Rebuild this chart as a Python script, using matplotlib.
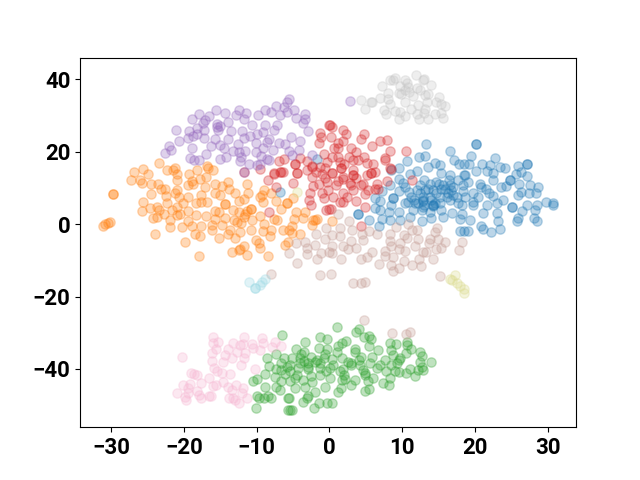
import numpy as np
import matplotlib
matplotlib.use('Agg')
import matplotlib.pyplot as plt

plt.rcParams['font.family'] = 'Roboto'

# t-SNE points, one list per cluster
blue = [(13.3,22),(20.1,22),(20.1,22),(16.6,20.1),(19.4,18.8),(22.7,18.3),(17.1,17.7),(12.3,18.6),(13.2,18.8),(10.6,17.4),(14.5,16.9),
        (15.2,16.3),(13.5,15.8),(9.6,15.6),(17.8,16.5),(18.5,16.6),(19.2,16.7),(21,16.6),(22.1,16.3),(23.5,15.8),(24.2,15.4),
        (25.9,16.1),(27.1,16.7),(27.1,16.7),(26.4,14.4),(25.6,13.8),(27.1,13.2),(20.1,14.7),(21.6,14.6),(22.5,14),(24.8,12.3),(12.1,14.6),
        (11.1,13.8),(8.5,14.9),(16.6,13.5),(15.4,14),(18.5,13.7),(9.5,12.6),(10.4,10.3),(8.3,10.8),(7.2,9.2),(13,12.1),
        (12.4,10.8),(14.7,11.7),(12,9.4),(11,8.8),(9.5,9.2),(13.1,9.4),(14.3,9.4),(15.4,9.8),(16.6,10.8),(17.7,12.1),
        (18.4,10.8),(19.1,11.7),(20.7,11.2),(22.5,12.1),(23.6,10.3),(24.8,12.3),(26,11.2),(26.4,8.9),(25.9,8),(27.6,10.8),
        (28.7,10.3),(27.5,8.5),(28.4,8.5),(20.9,10.3),(19.8,8.7),(20.4,7.5),(22,8.5),(22.5,7.7),(23.9,6.6),(24.3,10.5),
        (23,5.7),(21.6,5.2),(19.8,5.2),(18.6,7.5),(17.5,7.5),(16.3,8.5),(15.2,7.5),(14,6.6),(12.9,6.6),(11.7,5.7),
        (10.8,6.2),(10.4,5.7),(8.8,7.1),(8.8,7.1),(6.2,7.1),(6.9,6.4),(8.5,5.2),(6.9,4),(6.2,4.5),(3.9,2.9),(3.9,2.9),(8.2,3.4),
        (9.5,3.4),(11.5,3.9),(12.9,4.8),(14.3,5.4),(15.4,3.9),(16.8,3.2),(18.2,2.9),(19.3,1.1),(17.9,1.3),(15.6,2),
        (14,1.6),(12.7,0.8),(11.1,2),(9.7,1.1),(8.3,1.1),(7.2,1.3),(5.5,1.1),(6.8,-0.6),(21.1,3.1),(23,3.1),
        (25.1,4.6),(25.1,4.6),(26.5,3.7),(27.2,5.4),(28.5,5.4),(28.3,3.9),(29.8,6),(30.7,5.9),(30.7,5.4),(28.1,1.6),(28.6,0.9),
        (25.9,1.6),(25.8,0.9),(23.2,0.8),(23.4,-1.4),(22.2,-2.1),(21.1,-1.4),(20.9,-0.5),(19.1,-1.8),(18.5,-1.8),(17.9,-2),
        (12.4,8.5),(13.6,9.8),(14.5,5.7),(15.9,9.8),(17,10.3),(14.7,8.5),(13.8,7.5),(16.6,6.6),(17.7,5.7),(12.7,3.9),
        (11.6,6.6),(12.2,5.9),(16.1,7.5),(19.8,6.2),(21.5,9.8),(18.2,5.2),(13.8,3.4),(15.2,5.7),(18.6,13.5),(13.8,11.2),
        (15.6,10.8),(14.3,5.2),(-6.8,8.9),(-1.7,18.1),(12.8,6.4),(14.2,4.9),(13,5.3),(16.7,9.3),(11.2,7.5),(15.1,11),
        (10.1,11.4),(18.3,9.2),(16.5,12.2),(17,8),(12.9,7.4)]
orange = [(-23.4,16.9),(-26.9,14.4),(-25.6,15.2),(-24.9,13.8),(-27.3,12.1),(-26,12.1),(-25.8,11.4),(-24.6,11.2),(-23.6,11.2),(-22.4,14.9),
          (-21.2,15.6),(-20.9,13.8),(-21,12.1),(-21.5,14.9),(-19.3,13.8),(-18.2,14.9),(-16.9,16.1),(-16.7,15.4),(-16,14.9),(-17,13.1),
          (-17.8,12.6),(-18.9,11.9),(-18.7,11.2),(-19.5,10.8),(-17.1,10.3),(-15.8,11),(-14.8,10.5),(-14,11.7),(-13.8,9.8),(-23.1,9.8),
          (-22.6,9.8),(-20.9,9.4),(-21.2,8.5),(-20.7,7.4),(-22.5,7.7),(-24.5,8.3),(-25.6,6.2),(-25.8,3.7),(-24.7,4.5),(-23.7,4.8),
          (-23.5,3.9),(-22.4,5.7),(-21,4.8),(-20.1,5.7),(-19.5,7.4),(-18.4,5.9),(-17.6,8),(-17.6,6.2),(-16.8,6),(-15.8,8.5),
          (-15,8),(-13,8.7),(-11.4,11),(-11.2,8.7),(-11.8,6.9),(-12.5,6.4),(-14.4,5.5),(-14.4,5.5),(-9.5,7.4),(-9.3,8),(-9,9.3),
          (-8,8.7),(-9.2,6.2),(-7.4,6.4),(-5.9,5.9),(-5.9,5.9),(-5,7.1),(-6.6,4.1),(-10.8,4.1),(-10.8,4.1),(-13.2,3.9),(-12.5,3.4),(-11.6,2.9),
          (-11.4,3.7),(-15.8,3.6),(-15.2,3.4),(-18.4,2.5),(-17,2.2),(-14.3,1.8),(-21.7,3.9),(-20.9,2.5),(-20.5,2.9),(-19.4,3.7),
          (-22.8,2.8),(-23.7,2),(-24.3,1.6),(-21.9,1.1),(-21.9,-0.7),(-20.3,-0.7),(-19.5,0.8),(-18.9,-0.5),(-17.6,-0.5),(-15.8,1.3),
          (-16.2,-0.3),(-16.2,-1.7),(-14.8,-0.3),(-13.7,-1.7),(-13.1,1.1),(-12.7,0.6),(-12.1,0.2),(-11.8,2),(-10.7,1.1),(-9.6,2.2),
          (-9,0),(-10.8,-1.7),(-12.3,-2.1),(-9.1,-1.8),(-8,-1.7),(-8.2,-3.3),(-7.2,1.1),(-7.6,1.3),(-6.4,-1.7),(-5.5,-1.7),
          (-5.2,-0.5),(-4.9,1.3),(-4.6,3.4),(-3.4,3.4),(-3.6,1.8),(-5.2,-2.4),(-4.1,-2.6),(-2.2,1.1),(-1.7,1.3),(-2.4,-0.3),
          (-24,-2.6),(-18.5,-2.8),(-17.8,-3.2),(-15.2,-3.8),(-14,-2.8),(-13,-3.9),(-19.8,-4.9),(-10.1,-4.4),(-9.7,-5.1),(-9.5,-6.5),
          (-11.8,-6),(-12.3,-7),(-13.4,-7.6),(-11.4,-8.4),(-8.5,-8.7),(-18,-8.7),(-6.1,-5.8),(-5.7,-4.9),(-29.8,8.2),(-29.8,8.2),(-31.2,-0.6),
          (-30.8,0),(-30.2,0.5),(-30.5,0.3),(0.4,0.8),(-2,1),(-12.5,-7.2)]
green = [(1.1,-28.5),(4,-29),(3.6,-29.9),(-6.5,-30.6),(-1.3,-31.1),(-0.3,-31.6),(4.7,-31.3),(5.5,-30.9),(5.7,-31.8),(-3.3,-32.5),
         (2.3,-32.3),(1.7,-32.9),(1.2,-33.8),(8.3,-32.9),(9.1,-33.2),(10.7,-32.5),(10.7,-33.4),(-4.6,-34.5),(-1.5,-34.3),(-0.3,-34.5),
         (1,-35.2),(3.5,-34.6),(5.5,-33.8),(8.5,-34.8),(11.2,-34.6),(12.4,-35.2),(6.7,-34.8),(-7.4,-36),(-8.6,-36.9),(-6.3,-36.9),
         (-3.5,-35.2),(-5.2,-37.1),(-4.1,-37.1),(-2.5,-36.6),(-0.8,-36.9),(0.3,-37.2),(1.7,-37.1),(3.5,-35.2),(4.4,-36.6),(5.8,-36.6),
         (7.6,-37.5),(9.5,-37.5),(10.5,-35.6),(12.7,-36.4),(14,-38),(-8.3,-39.1),(-6.7,-38.4),(-5.4,-38.9),(-4.1,-38.4),(-2.9,-38.4),
         (-1.3,-38.4),(0.5,-38.9),(3,-38.4),(4.2,-38.9),(5.6,-38.4),(6.9,-38.9),(8.5,-38.9),(9.3,-38.4),(12.4,-38),(12.7,-39.4),
         (12.9,-40.3),(12.2,-40.3),(11.1,-40.1),(10.5,-41),(9,-40.7),(7.8,-40.7),(6.5,-39.8),(4.9,-41.2),(3,-39),(1.4,-40.7),
         (0.1,-39.8),(-1.3,-39.8),(-2.9,-40.1),(-4.3,-39.8),(-5.4,-40.7),(-6.6,-40.3),(-7.3,-40.1),(-8.9,-41.4),(-7.5,-42.1),(-6.6,-43.2),
         (-5.4,-43.3),(-4.4,-41.7),(-3.6,-43),(-2.4,-43.7),(-1.3,-41.7),(0.1,-42.6),(1.7,-43),(2.1,-42.8),(3.5,-43),(3,-44.4),
         (4.9,-41.7),(5.3,-43.3),(6,-42.6),(7.3,-44),(8.2,-44.4),(8.3,-42.6),(9.6,-40.9),(11.7,-41.9),(-10.5,-43.3),(-10,-42.8),
         (-8.9,-44.9),(-7.3,-45.1),(-6.8,-45.8),(-4.8,-45.3),(-3.3,-45),(-0.6,-45.1),(1.6,-45.3),(1.2,-46.5),(-2,-46.4),(-2.9,-47.4),
         (-3.6,-49.1),(5.5,-45.5),(4.9,-46),(-9.9,-47.4),(-9.7,-48.1),(-8.4,-47.4),(-8,-48.1),(-9,-48.1),(-5.7,-48),(-5.6,-48.1),
         (-1.5,-49.5),(-2.1,-50.7),(-0.4,-49.5),(0.4,-49.5),(-10.1,-50.9),(-5.7,-51.3),(-5.4,-51.3),(-5.2,-51.3),(-3.1,-48.1),
         (-3.5,-37.9),(-2,-38),(-1.7,-37.5),(-3,-39.5),(-5.9,-39.6),(-4.8,-42.6),(-6.1,-41.5),(-2.6,-42),(-0.5,-40.7),(1.9,-40),
         (2.6,-38),(4.1,-37.6),(4.6,-40.2),(2,-41.8),(-0.6,-36),(-3.9,-36),(8.7,-36.1),(9.7,-36.9)]
red = [(-1.3,25.2),(0.1,27.3),(0,27.3),(0.4,26.9),(1.9,25.9),(2.3,24.8),(4.7,25),(4.3,23.6),(1.8,22.9),(1.2,22.3),
       (6.9,22.9),(7.9,23.2),(5.9,21.6),(8.3,20.1),(10.5,20.1),(7.6,18.3),(2.9,20.9),(3.7,19.8),(2.7,18.6),(1.2,18.6),
       (0.3,18.6),(3.3,17.7),(3.9,17.7),(4.8,18.6),(5.1,16.9),(6,16.7),(1.4,17.2),(1.6,15.4),(0.4,14.2),(3.2,13.7),
       (1.9,12.9),(5.1,13.7),(5.7,14),(6.2,14.3),(8.3,15.4),(1.2,20.9),(0.4,14),(1.6,15.4),(3.2,13.7),(1.9,12.6),
       (2.9,10.8),(2.8,11.4),(0.9,10.8),(4.4,10.8),(4.6,11.2),(3.2,9.4),(4.9,8.2),(6.2,9.8),(6.6,11.2),(7.9,12),
       (6.7,9.8),(11.4,12.1),(8.4,15.2),(7.6,17.7),(1.9,6.2),(1.4,6.2),(3.7,6.4),(4.9,4.8),(0.2,4.3),(4.4,-0.5),
       (5.7,14),(-11.8,14.4),(-9.5,15.2),(-8.5,12.1),(-7.6,14),(-6.8,14.4),(-6.4,14.4),(-4.5,14),(-5,11.4),(-4.7,16.7),
       (-3.1,14.9),(-2.4,15.8),(-1.8,14.4),(-1,13.8),(-2.2,10.5),(-2.7,8.5),(-1,8.5),(-0.8,7.1),(-2.8,6.6),(-2.5,5.2),
       (-0.5,3.9),(0,4.3),(-8.3,3.4),(-7.3,10.3),(-0.4,11.7),(-0.2,9.4),(-6.9,17.4),(-6.3,18.1),(-4.7,16.6),(-4,18.3),
       (-3.1,17.4),(-2.4,16),(-1.3,15.8),(-0.6,15.6),(-4.5,14),(-6.6,14.4),(-7.6,13.8),(-1.2,24),(-1.5,22.3),(0.2,24),
       (0.6,21),(1.8,8.5),(-0.7,19.3),(-0.4,17.2),(2,16.5),(3.2,15),(-2.4,13),(-0.6,12.7),(1.2,12),(2.4,7.4),(-1.4,11),
       (0.5,7.6),(3.6,12.7),(5.3,9.5)]
purple = [(-5.6,34.7),(-5.9,33.7),(-6.3,32.4),(-7.4,32.6),(-8.8,31.6),(-9.8,30.1),(-12.5,31.4),(-11.5,30.8),(-12.8,30.1),(-15.6,31.4),
          (-14.4,30.8),(-18,30.3),(-18.9,29.1),(-16.6,29.9),(-17.1,28.7),(-17.4,27.8),(-13.9,28.2),(-15.5,27.6),(-11.8,29),(-10.7,27.3),
          (-8.9,27.5),(-7.2,27.3),(-6.8,30.1),(-8.1,31),(-5.8,31),(-4.9,31.4),(-4.6,29.4),(-3.4,30.3),(-3.4,29.1),(-3.7,27.8),
          (-2.9,25.7),(-7.6,25.9),(-9.1,25.5),(-10,25),(-12,25.7),(-13.6,25.7),(-15.3,25.9),(-18.2,26.6),(-17.2,25.9),(-21.1,26.1),
          (-19.3,25.7),(-19.4,23.8),(-18.2,25),(-18.7,24.3),(-17.3,23.9),(-20.7,22.9),(-15.7,23.4),(-13.9,23.6),(-11.7,23.9),(-10.9,24.3),
          (-10.1,22.3),(-8.3,23.6),(-8.6,22.7),(-5.3,24.1),(-4,22.9),(-7,22.4),(-6.1,22.1),(-12.6,22.1),(-22.1,21.5),(-21.8,20.4),
          (-22.6,19.7),(-18.9,21.1),(-16.3,21.6),(-15,21.8),(-14.5,21.1),(-17,19.5),(-13.3,20.1),(-12.5,20),(-11.6,20.2),(-10.1,19.8),
          (-9.1,20.9),(-7.7,20.6),(-5.5,20.2),(-4.2,20.6),(-5.2,19.2),(-2.4,19.2),(-9.4,18.9),(-8.6,18.1),(-8.3,17.7),(-12.2,18.6),
          (-12.3,17.4),(-14.2,18.6),(-15,17.9),(-19.2,18.4),(-18.6,17.8),(-18,17.7),(-11,16.7),(-10,16.3),(-9.5,16.6),(-11.8,14.4),
          (2.8,33.9),(-15.5,26.8),(-15,27.2)]
brown = [(9.2,-0.7),(10.8,-0.1),(1.2,2.9),(2.7,0.9),(1.5,-1.2),(3.1,-1.5),(5.4,-1.8),(6.5,-2.8),(4.5,-2.8),(4.6,-4.4),
         (1.4,-3.3),(0.4,-3),(2.9,-4.7),(1.9,-6),(2.6,-7),(3.6,-6.7),(0.4,-6.1),(0.4,-8.1),(1.6,-9.7),(5.8,-7.6),
         (5.2,-9),(4.3,-9.7),(6.8,-10.9),(7.6,-7.4),(8.3,-2.6),(8.3,-4.7),(8.5,-6.1),(9.7,-5.1),(10.6,-3.7),(10.2,-3),
         (11.4,-1.5),(12.1,-1.5),(12.2,-4),(11.7,-6),(10.4,-7.4),(9.6,-7),(8.8,-9),(7.6,-8.8),(10.3,-10.2),(12.3,-9.7),
         (11.3,-11.3),(12.6,-11.6),(8.5,-11.3),(9.6,-12),(8.8,-12.9),(14.2,-9.7),(12.9,-7.6),(13.3,-7.6),(14.6,-7),(15.4,-6.7),
         (15.9,-4.9),(14.9,-4.1),(13.7,-5.1),(13.8,-4.1),(14.5,-2.1),(14.8,-1),(18.2,-4.9),(17.8,-7.2),(0.2,-13.8),(15.2,-14.4),
         (3.3,-16.2),(4.4,-16.2),(4.9,-15.9),(-1.8,-2.6),(-0.5,-1.2),(-0.6,-4),(-4.6,-5.3),(-3.4,-4.9),(-3.1,-6.5),(-2,-5.8),
         (-3.1,-8.3),(-5.6,-7.9),(-1.1,-7.9),(-1.7,-9.7),(-4.4,-10.7),(-8.1,-13.9),(-1.3,-14.1),(0,-7.6),(4.8,-26.5),(8.6,-30),
         (10.5,-30.3),(11.1,-29.7)]
pink = [(-16,-31.1),(-11.8,-31.1),(-9.3,-31.4),(-7.5,-32.6),(-15.3,-32.5),(-16,-32.9),(-13.3,-32.9),(-12.3,-33.4),(-11.9,-33),(-10.7,-33.2),
        (-9.1,-32.9),(-6.6,-33.7),(-7.9,-34),(-10.5,-34.3),(-9.6,-34.8),(-13.9,-34.6),(-15.6,-34.6),(-16.2,-35.7),(-12.7,-35.2),(-11.6,-35.5),
        (-14.4,-36.1),(-13.4,-37.1),(-11.7,-37.1),(-20.3,-36.8),(-16.1,-37.7),(-14.7,-38),(-12.2,-38.9),(-15.9,-39.8),(-15.4,-40.7),(-10.2,-40),
        (-19.1,-41),(-18.6,-41.4),(-18.2,-41.8),(-14.8,-41.2),(-13.7,-41.5),(-16.5,-42.4),(-14.6,-43.7),(-17.7,-44),(-19.2,-44.1),(-20.2,-44.4),
        (-16,-44.6),(-15.6,-44.4),(-13.9,-44.9),(-12.8,-44.4),(-19.4,-45.3),(-11.9,-45.3),(-13.4,-45.8),(-21,-46.7),(-19.4,-46.7),(-18.2,-46.2),
        (-18,-47.2),(-12,-46.7),(-11.3,-48.1),(-19.8,-47.8),(-19.7,-48.5),(-17.7,-47.9),(-16.6,-47.6),(-16.3,-47.4),(-13.8,-48.1),(-13.2,-48.1),
        (-13,-48.7),(-12.5,-49.5)]
gray = [(11.9,41.3),(9,40.4),(8.3,39.9),(8.8,39.7),(10.4,39.7),(13,40.2),(12.8,39.7),(10.7,39),(14,38.3),(7.2,38.2),
        (9.7,38.1),(10.8,37.9),(12.1,37.7),(10.4,37),(12.4,37),(9.5,36.3),(8,36.2),(13.6,36),(13.1,35.6),(11.5,35.3),
        (7,34.9),(8.1,34.7),(15.1,35.1),(4.3,34.2),(5.7,33.7),(4.9,31.7),(8.3,33.3),(10.4,33.7),(13.4,33.7),(14.7,33.6),
        (15.3,33.3),(15.9,32.6),(12.2,32.8),(11.2,31.7),(7.5,31.6),(9.7,31),(9,31.3),(13.1,31.9),(7.8,30.3),(10.4,29.9),
        (9.5,29),(12.1,30.5),(12.3,29.1),(13.6,29),(13,30.8),(14.5,30.5),(15.4,30.8),(15.6,29.4),(5.8,33.8),(9.9,36),
        (11,36.5)]
olive = [(16.6,-15.2),(17.2,-14.1),(16.9,-15.3),(17.5,-16.4),(17.9,-17),(18.5,-17.9),(18.5,-18.9),(-4.5,8.9)]
cyan = [(-11.1,-16.1),(-9.3,-15.9),(-8.9,-15.2),(-10.2,-17.6),(-9.5,-16.8),(-10.2,-17.7)]

clusters = [blue, orange, green, red, purple, brown, pink, gray, olive, cyan]
colors = ['#1f77b4', '#ff7f0e', '#2ca02c', '#d62728', '#9467bd',
          '#c49c94', '#f7b6d2', '#c7c7c7', '#dbdb8d', '#9edae5']

fig, ax = plt.subplots(figsize=(6.4, 4.8), dpi=100)
for pts, c in zip(clusters, colors):
    pts = np.array(pts)
    ax.scatter(pts[:, 0], pts[:, 1], c=c, s=45, alpha=0.3)

ax.set_xlim(-34.3, 33.9)
ax.set_ylim(-56.1, 46.0)
ax.set_xticks([-30, -20, -10, 0, 10, 20, 30])
ax.set_yticks([-40, -20, 0, 20, 40])
ax.tick_params(labelsize=16)
for lab in ax.get_xticklabels() + ax.get_yticklabels():
    lab.set_fontweight('bold')

fig.savefig('out.png', dpi=100)
